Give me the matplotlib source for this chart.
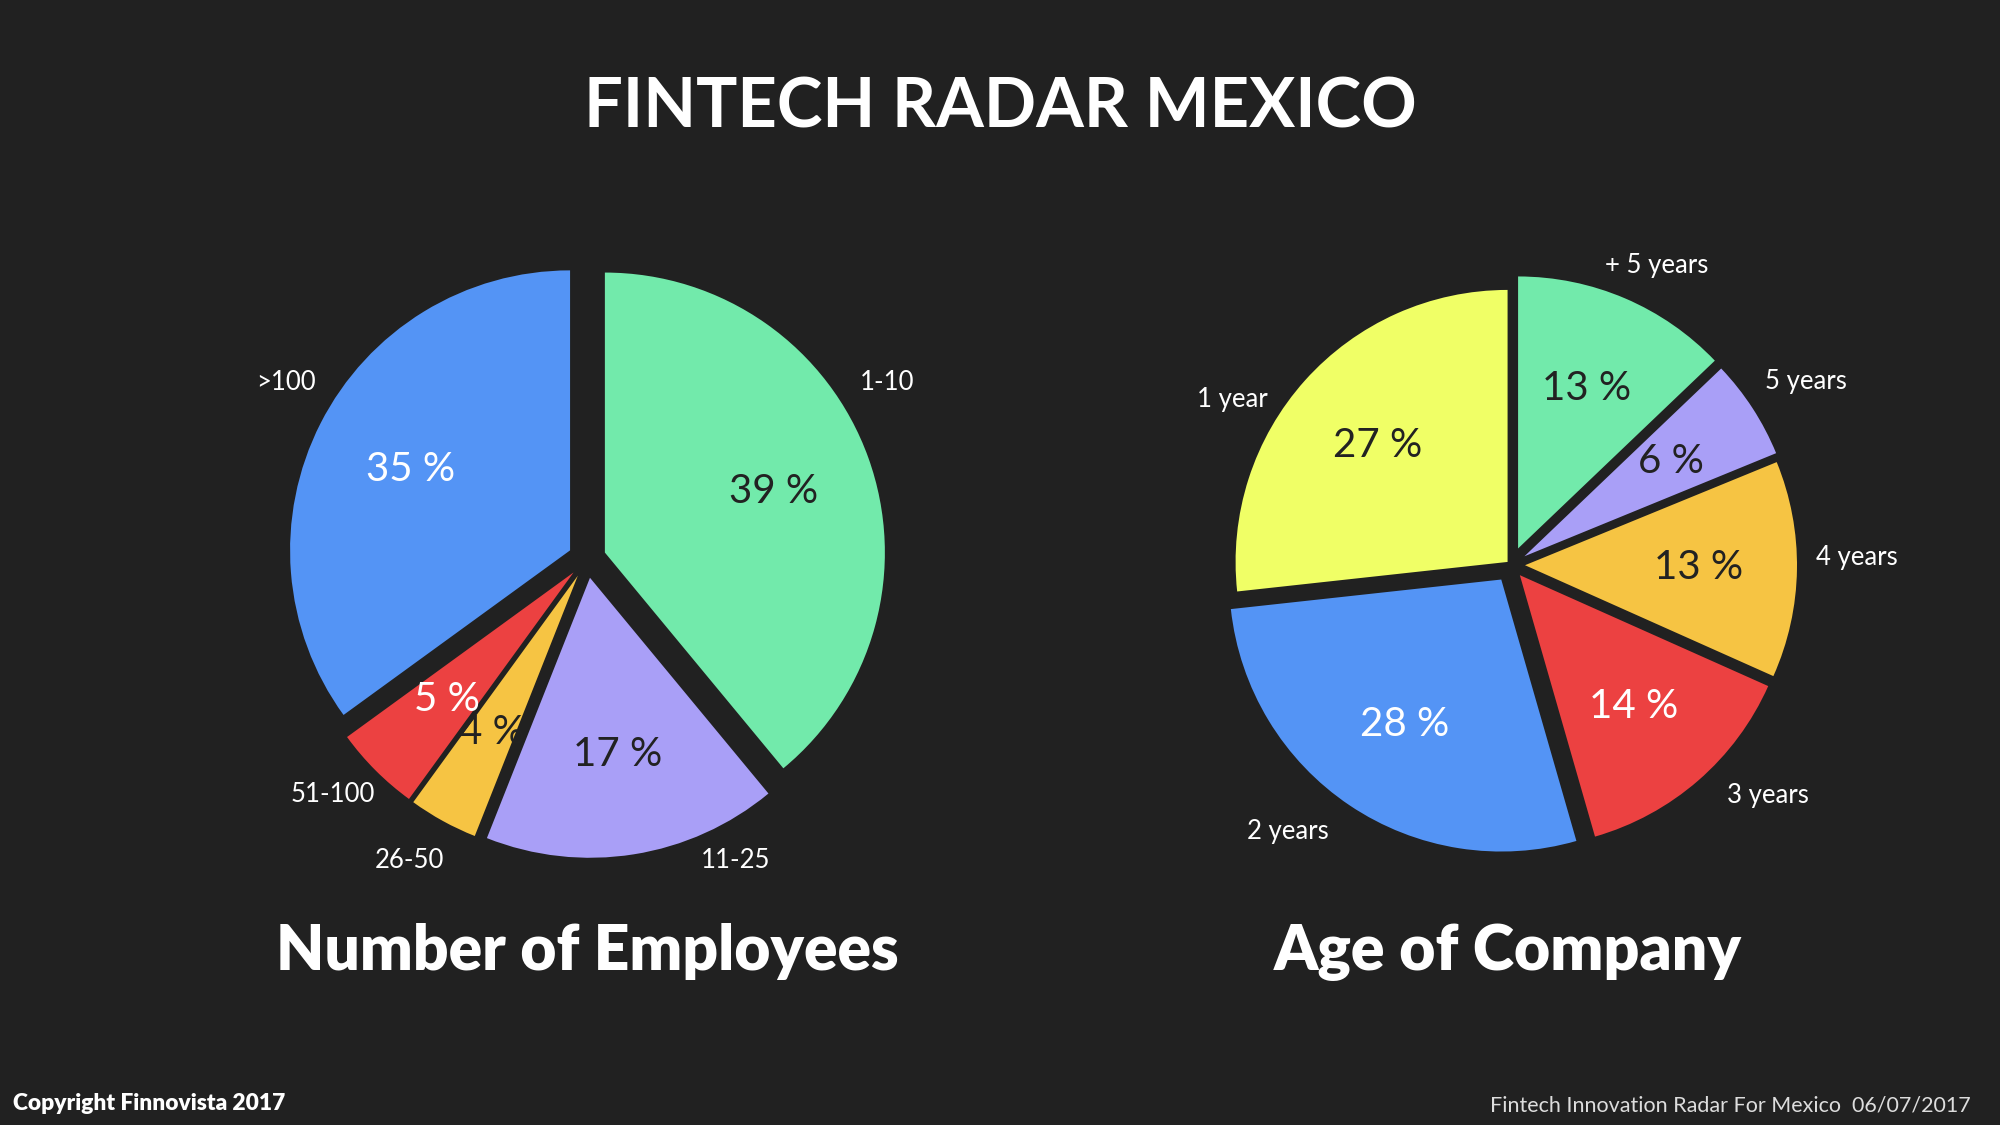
import matplotlib
matplotlib.use("Agg")
import matplotlib.pyplot as plt

# data
emp_labels = ['1-10', '11-25', '26-50', '51-100', '>100']
emp_values = [39, 17, 4, 5, 35]

age_labels = ['+ 5 years', '5 years', '4 years', '3 years', '2 years', '1 year']
age_values = [13, 6, 13, 14, 28, 27]

# colours
bg = '#212121'
green = '#72EAAB'
purple = '#A99FF7'
orange = '#F6C443'
red = '#EC4141'
blue = '#5494F5'
lime = '#F0FF66'
dark = '#222222'

emp_colors = [green, purple, orange, red, blue]
age_colors = [green, purple, orange, red, blue, lime]
emp_pct_colors = [dark, dark, dark, 'white', 'white']
age_pct_colors = [dark, dark, dark, 'white', 'white', dark]

# layout (pixels, y up)
emp_center = (587, 566)
emp_radius = 280
emp_explode = [19, 19, 19, 19, 19]
age_center = (1511, 560)
age_radius = 272
age_explode = [18, 16, 14, 13.5, 17.5, 4.6]

emp_label_pos = [(887, 743), (736, 265), (409, 265), (333, 330), (286, 743)]
age_label_pos = [(1657, 860), (1806, 743), (1857, 567), (1768, 330), (1288, 294), (1232, 725)]

plt.rcParams['font.family'] = ['Lato', 'DejaVu Sans']

fig = plt.figure(figsize=(20, 11.25), dpi=100, facecolor=bg)
ax = fig.add_axes([0, 0, 1, 1])
ax.set_facecolor(bg)


def draw_pie(values, labels, colors, pct_colors, center, radius, explode, label_pos):
    wedges, texts, autotexts = ax.pie(values, colors=colors, explode=explode,
                                      center=center, radius=radius,
                                      startangle=90, counterclock=False,
                                      autopct='%.0f %%', pctdistance=0.64,
                                      wedgeprops=dict(linewidth=0))
    for t, c in zip(autotexts, pct_colors):
        t.set_color(c)
        t.set_fontsize(29)
        t.set_fontweight('normal')
    for lab, (x, y) in zip(labels, label_pos):
        ax.text(x, y, lab, color='white', fontsize=18.5, fontweight='normal',
                ha='center', va='center')


draw_pie(emp_values, emp_labels, emp_colors, emp_pct_colors,
         emp_center, emp_radius, emp_explode, emp_label_pos)
draw_pie(age_values, age_labels, age_colors, age_pct_colors,
         age_center, age_radius, age_explode, age_label_pos)

ax.set_xlim(0, 2000)
ax.set_ylim(0, 1125)
ax.set_aspect('equal')
ax.axis('off')

# titles
ax.text(1000, 1017, 'FINTECH RADAR MEXICO', color='white', fontsize=49.5,
        fontweight='bold', ha='center', va='center')
ax.text(587, 173, 'Number of Employees', color='white', fontsize=44.8,
        fontweight='heavy', ha='center', va='center')
ax.text(1508, 173, 'Age of Company', color='white', fontsize=45,
        fontweight='heavy', ha='center', va='center')

# footers
ax.text(13, 21, 'Copyright Finnovista 2017', color='white', fontsize=16.4,
        fontweight='heavy', ha='left', va='center')
ax.text(1971, 20, 'Fintech Innovation Radar For Mexico  06/07/2017', color='#dddddd',
        fontsize=15.5, fontweight='normal', ha='right', va='center')

fig.savefig('out.png', dpi=100, facecolor=bg)
